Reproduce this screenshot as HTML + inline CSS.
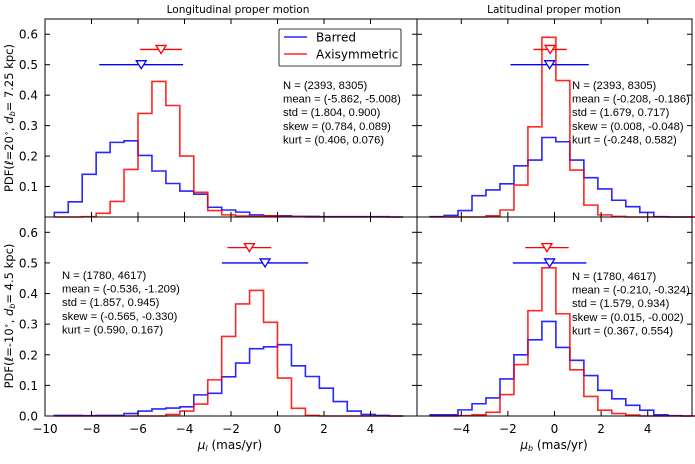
<!DOCTYPE html>
<html><head><meta charset="utf-8"><style>
html,body{margin:0;padding:0;background:#fff;}
svg{display:block;font-family:"DejaVu Sans","Liberation Sans",sans-serif;}
</style></head><body>
<svg id="fig" width="695" height="464" viewBox="0 0 695 464" xmlns="http://www.w3.org/2000/svg"></svg>
<script>
// ---------- data ----------
const leftEdgeStart = -9.6;   // longitudinal bins (width 0.6)
const rightEdgeStart = -5.34; // latitudinal bins (width 0.6)
const binWidth = 0.6;
const tlBarred = [0.015,0.05,0.14,0.212,0.245,0.25,0.202,0.151,0.11,0.085,0.075,0.032,0.023,0.016,0.007,0.004,0.004,0.002,0.002,0.001,0.001,0.001,0.001,0.001,0];
const tlAxi    = [0,0,0.001,0.012,0.051,0.156,0.34,0.445,0.366,0.2,0.081,0.021,0.007,0.003,0.002,0.004,0.002,0.001,0,0,0,0,0,0,0];
const blBarred = [0.002,0.002,0.001,0.002,0.002,0.008,0.016,0.023,0.026,0.03,0.069,0.074,0.128,0.173,0.22,0.226,0.233,0.164,0.129,0.091,0.047,0.016,0.005,0.002,0];
const blAxi    = [0,0,0,0,0,0,0,0,0.005,0.016,0.039,0.118,0.26,0.366,0.41,0.306,0.124,0.025,0.002,0,0,0,0,0,0];
const trBarred = [0.001,0.005,0.021,0.07,0.089,0.109,0.168,0.187,0.261,0.247,0.187,0.129,0.092,0.055,0.034,0.015,0.001,0,0];
const trAxi    = [0,0,0,0,0.004,0.023,0.105,0.296,0.59,0.448,0.154,0.039,0.007,0.002,0,0,0,0,0];
const brBarred = [0.004,0.004,0.02,0.04,0.059,0.121,0.2,0.249,0.309,0.224,0.182,0.132,0.084,0.056,0.035,0.019,0.004,0.001,0];
const brAxi    = [0,0,0.001,0.004,0.012,0.07,0.168,0.344,0.484,0.334,0.151,0.064,0.019,0.008,0.003,0,0,0,0];
const means = [[-5.862,-5.008],[-0.208,-0.186],[-0.536,-1.209],[-0.210,-0.324]];
const stds  = [[1.804,0.900],[1.679,0.717],[1.857,0.945],[1.579,0.934]];
const statText = [
 ["N = (2393, 8305)","mean = (-5.862, -5.008)","std  = (1.804, 0.900)","skew = (0.784, 0.089)","kurt = (0.406, 0.076)"],
 ["N = (2393, 8305)","mean = (-0.208, -0.186)","std  = (1.679, 0.717)","skew = (0.008, -0.048)","kurt = (-0.248, 0.582)"],
 ["N = (1780, 4617)","mean = (-0.536, -1.209)","std  = (1.857, 0.945)","skew = (-0.565, -0.330)","kurt = (0.590, 0.167)"],
 ["N = (1780, 4617)","mean = (-0.210, -0.324)","std  = (1.579, 0.934)","skew = (0.015, -0.002)","kurt = (0.367, 0.554)"]];
const yTicks = [0.0,0.1,0.2,0.3,0.4,0.5,0.6];
const xTicksL = [-10,-8,-6,-4,-2,0,2,4];
const xTicksR = [-4,-2,0,2,4];

const NS="http://www.w3.org/2000/svg";
const svg=document.getElementById('fig');
function mk(tag,attrs,parent){const e=document.createElementNS(NS,tag);for(const k in attrs)e.setAttribute(k,attrs[k]);(parent||svg).appendChild(e);return e;}

const panels=[
 {x0:45,x1:417,y0:19,y1:217,xmin:-10,xmax:6,edge:leftEdgeStart,b:tlBarred,a:tlAxi,xt:xTicksL,stx:283,sty:85,name:'top-left',xlab:false},
 {x0:417,x1:692,y0:19,y1:217,xmin:-5.9,xmax:5.9,edge:rightEdgeStart,b:trBarred,a:trAxi,xt:xTicksR,stx:572,sty:85,name:'top-right',xlab:false},
 {x0:45,x1:417,y0:217,y1:416,xmin:-10,xmax:6,edge:leftEdgeStart,b:blBarred,a:blAxi,xt:xTicksL,stx:62,sty:275,name:'bottom-left',xlab:true},
 {x0:417,x1:692,y0:217,y1:416,xmin:-5.9,xmax:5.9,edge:rightEdgeStart,b:brBarred,a:brAxi,xt:xTicksR,stx:572,sty:276,name:'bottom-right',xlab:true}];

panels.forEach((p,pi)=>{
  const g=mk('g',{});
  
  
  const sx=v=>p.x0+(v-p.xmin)/(p.xmax-p.xmin)*(p.x1-p.x0);
  const sy=v=>p.y1-v/0.65*(p.y1-p.y0);
  function hist(vals,color,nm){
    let d='';
    vals.forEach((v,i)=>{const xa=sx(p.edge+i*binWidth),xb=sx(p.edge+(i+1)*binWidth);
      d+=(i===0?'M'+xa+','+sy(0)+'L'+xa+','+sy(v):'L'+xa+','+sy(v))+'L'+xb+','+sy(v);});
    d+='L'+sx(p.edge+vals.length*binWidth)+','+sy(0);
    const pa=mk('path',{d:d,fill:'none',stroke:color,'stroke-width':1.6,'stroke-opacity':0.85},g);
    
    
  }
  hist(p.b,'#0000ff','barred-histogram');
  hist(p.a,'#ff0000','axisymmetric-histogram');
  [[0,0.5,'#0000ff','barred'],[1,0.55,'#ff0000','axisymmetric']].forEach(([k,yv,c,n])=>{
    const m=means[pi][k],s=stds[pi][k],yy=sy(yv);
    const l=mk('line',{x1:sx(m-s),x2:sx(m+s),y1:yy,y2:yy,stroke:c,'stroke-width':1.3},g);
    
    
    const xm=sx(m);
    const t=mk('path',{d:`M${xm-5},${yy-4}L${xm+5},${yy-4}L${xm},${yy+4}Z`,fill:'#fff',stroke:c,'stroke-width':1.3},g);
    
    
  });
  const fr=mk('rect',{x:p.x0,y:p.y0,width:p.x1-p.x0,height:p.y1-p.y0,fill:'none',stroke:'#000','stroke-width':1},g);
  
  
  yTicks.forEach(v=>{
    const y=sy(v);
    mk('line',{x1:p.x0,x2:p.x0+5,y1:y,y2:y,stroke:'#000'},g);
    mk('line',{x1:p.x1-5,x2:p.x1,y1:y,y2:y,stroke:'#000'},g);
    if(p.x0===45 && !(v===0&&pi===0)){
      const t=mk('text',{x:38,y:y+4.5,'text-anchor':'end','font-size':12},g);
      t.textContent=v.toFixed(1);
      
      
    }
  });
  p.xt.forEach(v=>{
    const x=sx(v);
    mk('line',{x1:x,x2:x,y1:p.y1,y2:p.y1-5,stroke:'#000'},g);
    mk('line',{x1:x,x2:x,y1:p.y0,y2:p.y0+5,stroke:'#000'},g);
    if(p.xlab){
      const t=mk('text',{x:x,y:433,'text-anchor':'middle','font-size':12},g);
      t.textContent=(v<0?'\u2212'+(-v):String(v));
      
      
    }
  });
  const st=mk('text',{'font-size':11.2,'font-family':'"Liberation Sans",sans-serif'},g);
  
  
  statText[pi].forEach((s,i)=>{const ts=mk('tspan',{x:p.stx,y:p.sty+4+i*13.6},st);ts.textContent=s;});
});

function txt(x,y,s,attrs,name){const t=mk('text',Object.assign({x:x,y:y},attrs));t.innerHTML=s;
  
  return t;}
txt(238,13,'Longitudinal proper motion',{'text-anchor':'middle','font-size':10.5},'left-title');
txt(554,13,'Latitudinal proper motion',{'text-anchor':'middle','font-size':10.5},'right-title');
txt(230,449,'<tspan font-style="italic">μ</tspan><tspan font-size="8" dy="2" font-style="italic">l</tspan><tspan dy="-2"> (mas/yr)</tspan>',{'text-anchor':'middle','font-size':12},'x-axis-title-left');
txt(554,449,'<tspan font-style="italic">μ</tspan><tspan font-size="8" dy="2" font-style="italic">b</tspan><tspan dy="-2"> (mas/yr)</tspan>',{'text-anchor':'middle','font-size':12},'x-axis-title-right');
txt(0,0,'PDF(<tspan font-style="italic">ℓ</tspan>=20<tspan font-size="8" dy="-4">∘</tspan><tspan dy="4">, </tspan><tspan font-style="italic">d</tspan><tspan font-size="8" dy="2" font-style="italic">b</tspan><tspan dy="-2">= 7.25 kpc)</tspan>',{'text-anchor':'middle','font-size':11.5,transform:'translate(13,118) rotate(-90)'},'y-axis-title-top');
txt(0,0,'PDF(<tspan font-style="italic">ℓ</tspan>=-10<tspan font-size="8" dy="-4">∘</tspan><tspan dy="4">, </tspan><tspan font-style="italic">d</tspan><tspan font-size="8" dy="2" font-style="italic">b</tspan><tspan dy="-2">= 4.5 kpc)</tspan>',{'text-anchor':'middle','font-size':11.5,transform:'translate(13,316) rotate(-90)'},'y-axis-title-bottom');

const lg=mk('g',{});


mk('rect',{x:279,y:29,width:122,height:37,fill:'#fff',stroke:'#000','stroke-width':0.8,rx:1},lg);
const l1=mk('line',{x1:284,x2:307,y1:37,y2:37,stroke:'#0000ff','stroke-width':1.6,'stroke-opacity':0.85},lg);


const l2=mk('line',{x1:284,x2:307,y1:54,y2:54,stroke:'#ff0000','stroke-width':1.6,'stroke-opacity':0.85},lg);


const t1=mk('text',{x:316,y:41.5,'font-size':12},lg);t1.textContent='Barred';


const t2=mk('text',{x:316,y:58.5,'font-size':12},lg);t2.textContent='Axisymmetric';


</script>
</body></html>
